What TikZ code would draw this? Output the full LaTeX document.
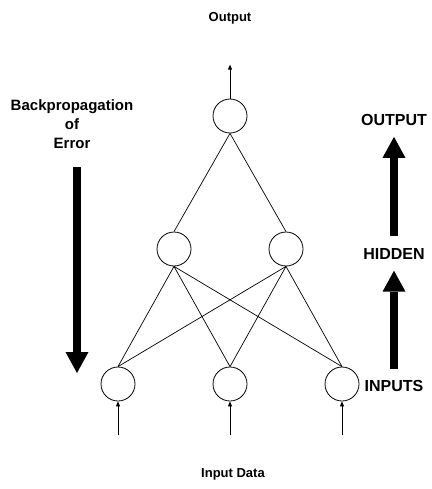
\documentclass[tikz,border=0pt]{standalone}
\usepackage{fontspec}
\setmainfont{Liberation Sans}
\usetikzlibrary{arrows.meta,positioning}

\begin{document}
\begin{tikzpicture}[x=1pt,y=-1pt,
  neuron/.style={circle,draw,line width=0.8pt,minimum size=34pt,inner sep=0pt},
  link/.style={line width=0.7pt},
  feed/.style={line width=0.8pt,-{Triangle[length=5pt,width=4pt]}},
  bigarrow/.style={line width=8pt,-{Triangle[length=21pt,width=23pt,line width=0pt]}},
  small/.style={font=\bfseries\fontsize{13}{15}\selectfont,inner sep=0pt},
  layer/.style={font=\bfseries\fontsize{16}{18}\selectfont,inner sep=0pt}]
\useasboundingbox (0,0) rectangle (431,489);
\node[neuron] (out) at (230,116) {};
\node[neuron] (h1) at (174,249) {};
\node[neuron] (h2) at (286,249) {};
\node[neuron] (i1) at (118,384) {};
\node[neuron] (i2) at (230,384) {};
\node[neuron] (i3) at (342,384) {};
\draw[link] (out.south) -- (h1.north);
\draw[link] (out.south) -- (h2.north);
\foreach \h in {h1,h2}
  \foreach \i in {i1,i2,i3}
    \draw[link] (\h.south) -- (\i.north);
\coordinate[above=34pt of out] (outtip);
\draw[feed] (out.north) -- (outtip);
\foreach \i in {i1,i2,i3} {
  \coordinate[below=34pt of \i] (\i-src);
  \draw[feed] (\i-src) -- (\i.south);
}
\node[small] (outlbl) at (230,18) {Output};
\node[small] (inlbl) at (233,474) {Input Data};
\node[small,align=center,font=\bfseries\fontsize{15}{19}\selectfont] (bp) at (72,124) {Backpropagation\\of\\Error};
\coordinate (bptop) at (77,167);
\coordinate (bptip) at (77,373);
\draw[bigarrow] (bptop) -- (bptip);
\node[layer] (lout) at (394,120) {OUTPUT};
\node[layer] (lhid) at (394,254) {HIDDEN};
\node[layer] (lin) at (394,386) {INPUTS};
\draw[bigarrow,shorten <=11pt,shorten >=11pt] (lin.north) -- (lhid.south);
\draw[bigarrow,shorten <=12pt,shorten >=11pt] (lhid.north) -- (lout.south);
\end{tikzpicture}
\end{document}
